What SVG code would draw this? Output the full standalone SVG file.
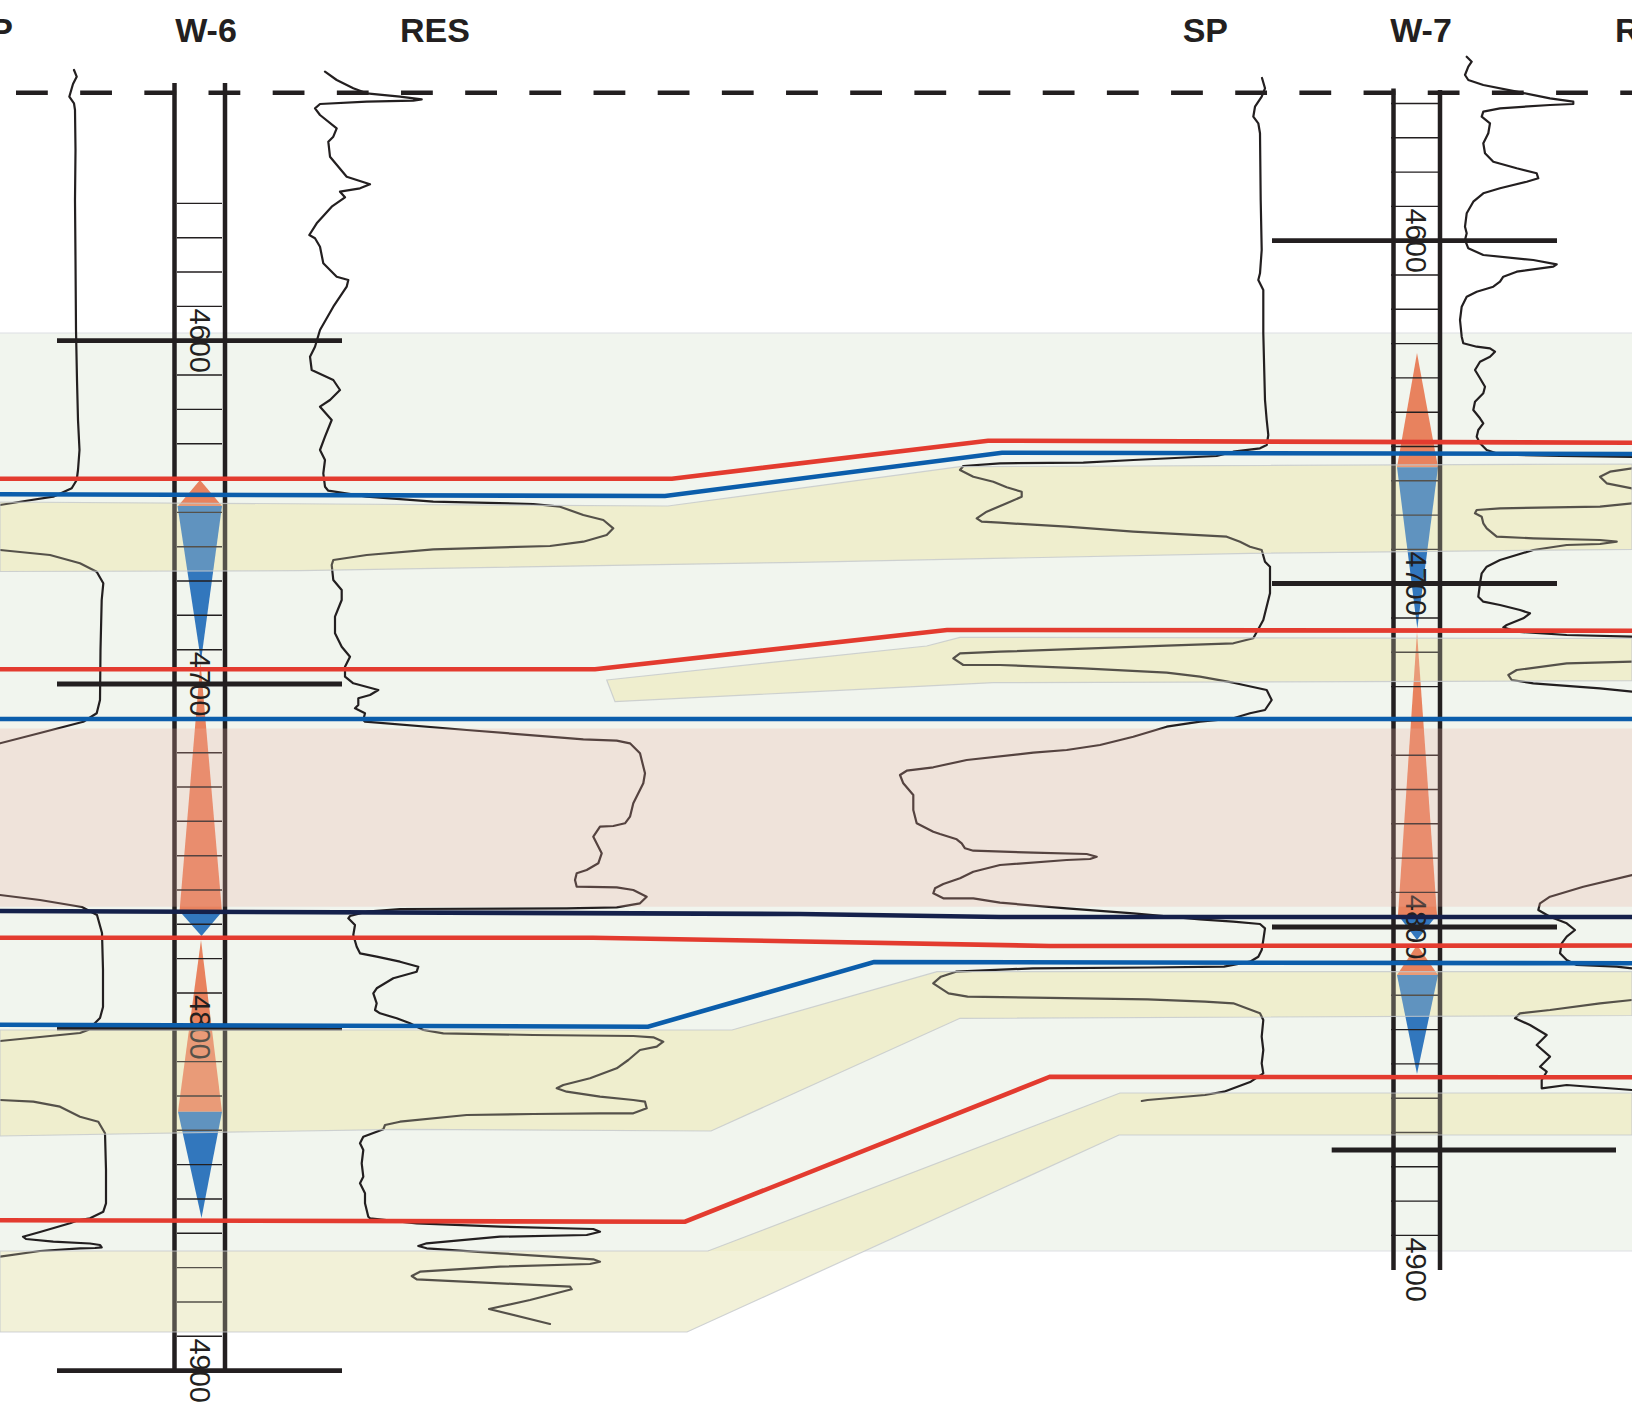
<svg xmlns="http://www.w3.org/2000/svg" width="1632" height="1406" viewBox="0 0 1632 1406">
<style>
.curve{fill:none;stroke:#231f20;stroke-width:2.2;stroke-linejoin:round;stroke-linecap:round}
.rail{stroke:#231f20;stroke-width:4.5}
.tick{stroke:#231f20;stroke-width:1.4;fill:none}
.marker{stroke:#231f20;stroke-width:4.8}
.hz{fill:none;stroke-width:4.6;stroke-linejoin:miter}
.red{stroke:#e33b2f}
.blue{stroke:#0b5dab}
.navy{stroke:#15214b}
.yu{fill:rgb(240,241,209)}
.yu2{fill:rgb(245,244,222)}
.ybd{fill:rgb(235,232,200);fill-opacity:0.25;stroke:#c4c8cc;stroke-width:1.2;stroke-opacity:0.8}
.pink{fill:rgb(237,177,158);fill-opacity:0.25}
.or{fill:#e8825e}
.bl{fill:#3277bd}
.depth{font-family:"Liberation Sans",Arial,sans-serif;font-size:29px;fill:#231f20}
.label{font-family:"Liberation Sans",Arial,sans-serif;font-weight:bold;font-size:34px;fill:#231f20}
</style>
<rect x="0" y="0" width="1632" height="1406" fill="#ffffff"/>
<g id="background">
<rect x="0" y="333" width="1632" height="918" fill="#f1f5ee"/>
<line x1="0" y1="333" x2="1632" y2="333" stroke="#dde0e3" stroke-width="1.2"/>
<line x1="708" y1="1251" x2="1632" y2="1251" stroke="#dde0e3" stroke-width="1.2"/>
</g>
<g id="layer-fills">
<polygon class="yu" points="0,502 668,506 960,466.7 1632,464 1632,549.3 1250,553.3 800,562.3 300,570.7 0,571.5"/>
<polygon class="yu" points="606.7,680 800,659.3 926.7,646 960,637.3 1632,638.5 1632,680.7 993.3,682.7 800,692.3 615,701.7"/>
<polygon class="yu" points="0,1030 732,1030 937,971.7 1632,971.7 1632,1015.5 960,1018.3 711,1131 400,1129.3 0,1136"/>
<polygon class="yu" points="708,1251 1120,1093 1632,1093 1632,1135 1119,1135 864,1251"/>
<polygon class="yu2" points="0,1251 864,1251 687,1332 0,1332"/>
</g>
<g id="well-W6">
<path class="or" d="M200 480 L222 506 L178 506 Z"/>
<path class="bl" d="M177.5 506 L222 506 L201 661 Z"/>
<path class="or" d="M200.5 662 L222 911.7 L179.5 911.7 Z"/>
<path class="bl" d="M180 911.7 L222 911.7 L201.5 936 Z"/>
<path class="or" d="M201 940 L222 1111.7 L178 1111.7 Z"/>
<path class="bl" d="M178 1111.7 L222 1111.7 L201.5 1218 Z"/>
<path class="tick" d="M177 203.4h45M177 237.7h45M177 272h45M177 306.4h45M177 340.7h45M177 375h45M177 409.4h45M177 443.7h45M177 478h45M177 512.4h45M177 546.7h45M177 581h45M177 615.3h45M177 649.7h45M177 684h45M177 718.3h45M177 752.7h45M177 787h45M177 821.3h45M177 855.7h45M177 890h45M177 924.3h45M177 958.6h45M177 993h45M177 1027.3h45M177 1061.6h45M177 1096h45M177 1130.3h45M177 1164.6h45M177 1199h45M177 1233.3h45M177 1267.6h45M177 1302h45M177 1336.3h45"/>
<line class="rail" x1="174.5" y1="83" x2="174.5" y2="1372"/>
<line class="rail" x1="225" y1="83" x2="225" y2="1372"/>
<text class="depth" transform="translate(200 340.7) rotate(90)" y="10" text-anchor="middle">4600</text>
<text class="depth" transform="translate(200 684) rotate(90)" y="10" text-anchor="middle">4700</text>
<text class="depth" transform="translate(200 1027.3) rotate(90)" y="10" text-anchor="middle">4800</text>
<text class="depth" transform="translate(200 1370.7) rotate(90)" y="10" text-anchor="middle">4900</text>
<line class="marker" x1="57" y1="340.7" x2="342" y2="340.7"/>
<line class="marker" x1="57" y1="684" x2="342" y2="684"/>
<line class="marker" x1="57" y1="1028" x2="342" y2="1028"/>
<line class="marker" x1="57" y1="1370.7" x2="342" y2="1370.7"/>
</g>
<g id="well-W7">
<path class="or" d="M1417 353 L1438 467.3 L1397 467.3 Z"/>
<path class="bl" d="M1397 467.3 L1438 467.3 L1417.3 628.5 Z"/>
<path class="or" d="M1417 632 L1437 915 L1398 915 Z"/>
<path class="bl" d="M1398 915 L1437 915 L1417 940 Z"/>
<path class="or" d="M1417 945 L1438 975 L1397 975 Z"/>
<path class="bl" d="M1397 975 L1438 975 L1417 1074 Z"/>
<path class="tick" d="M1391 103.5h47M1391 137.8h47M1391 172.1h47M1391 206.4h47M1391 240.7h47M1391 275h47M1391 309.3h47M1391 343.6h47M1391 377.9h47M1391 412.2h47M1391 446.5h47M1391 480.8h47M1391 515.1h47M1391 549.4h47M1391 583.7h47M1391 618h47M1391 652.3h47M1391 686.6h47M1391 720.9h47M1391 755.2h47M1391 789.5h47M1391 823.8h47M1391 858.1h47M1391 892.4h47M1391 926.7h47M1391 961h47M1391 995.3h47M1391 1029.6h47M1391 1063.9h47M1391 1098.2h47M1391 1132.5h47M1391 1166.8h47M1391 1201.1h47M1391 1235.4h47"/>
<line class="rail" x1="1393.5" y1="88.5" x2="1393.5" y2="1270"/>
<line class="rail" x1="1440" y1="90" x2="1440" y2="1270"/>
<text class="depth" transform="translate(1415.5 240.7) rotate(90)" y="10" text-anchor="middle">4600</text>
<text class="depth" transform="translate(1415.5 583.5) rotate(90)" y="10" text-anchor="middle">4700</text>
<text class="depth" transform="translate(1415.5 927) rotate(90)" y="10" text-anchor="middle">4800</text>
<text class="depth" transform="translate(1415.5 1269.7) rotate(90)" y="10" text-anchor="middle">4900</text>
<line class="marker" x1="1272" y1="240.7" x2="1557" y2="240.7"/>
<line class="marker" x1="1272" y1="583.5" x2="1557" y2="583.5"/>
<line class="marker" x1="1272" y1="927" x2="1557" y2="927"/>
<line class="marker" x1="1331.7" y1="1150" x2="1616" y2="1150"/>
</g>
<g id="logs">
<polyline id="sp-w6-a" class="curve" points="74,70 76.7,76.7 73,84 69.3,96.7 74,103.3 75,110 75.5,150 75,200 75.5,260 76,330 77,380 78,420 79.5,450 78,470 76.7,480 71.7,488.3 53.3,496.7 25,501 0,505"/>
<polyline id="sp-w6-b" class="curve" points="0,550 50,555 80,563.3 96.7,571.7 103.3,583.3 101.7,600 100.5,650 100,700 96.7,713.3 83.3,721.7 40,733 0,743.3"/>
<polyline id="sp-w6-c" class="curve" points="0,895 40,900 82,907 97,915 102,933 103,970 103,1007 100,1018 88,1030 80,1033 40,1037 0,1041"/>
<polyline id="sp-w6-d" class="curve" points="0,1100 33.3,1101.7 60,1106.7 80,1116.7 98.3,1121.7 105,1133.3 106,1170 106,1203.3 103.3,1211.7 90,1218.3 76.7,1220.7 70,1223.3 40,1232 23,1236.7 26,1239 53.3,1241.7 90,1243.5 100,1245 101.7,1247.3 95,1248 80,1248.3 40,1251 0,1256.7"/>
<polyline id="res-w6" class="curve" points="325,71.7 336.7,80 353.3,88.3 366.7,93.3 400,96.7 421.7,99.3 413.3,100.7 366.7,101.7 320,104 315,108.3 320,115 336.7,128.3 333.3,136.7 328.3,141.7 330,156.7 346.7,176.7 370,184.3 360,188.3 340,191.7 345,197.3 331.7,206.7 316.7,223.3 309.3,235 315,238.3 320,246.7 323.3,263.3 336.7,276.7 348.3,280 346.7,286.7 333.3,306.7 320,330 315,346.7 310,356.7 311.7,370 333.3,380 340,390 330,400 320,406.7 331.7,420 325,436.7 320,450 325,460 323.3,473.3 325,486.7 328.3,490.7 366.7,496.7 433.3,501.7 533.3,504 560,506.7 583.3,515 603.3,520 613.3,528.3 606.7,535 583.3,541.7 550,546 433.3,549.3 366.7,555 333.3,560 331.7,565 333.3,580 341.7,590 341.7,600 335,616.7 335,633.3 341.7,646.7 350,656.7 345,666.7 345,676.7 353.3,683.3 378.3,690 370,695 358.3,698.3 358.3,705 355,708.3 365,713.3 363.3,720 365,721.7 466.7,730 583.3,739.3 616.7,740.7 630,743.3 640,753.3 645,773.3 643.3,783.3 633.3,803.3 630,816.7 625,823.3 613.3,826 600,826.7 593.3,836.7 601.7,853.3 598.3,863.3 586.7,870 576.7,873.3 575,880 576.7,886.7 616.7,887.3 633.3,890 646.7,896.7 640,903.3 616.7,907.3 566.7,908.3 400,909 366.7,911.7 350,916 348.3,918.3 355,925 353.3,935 356.7,946.7 360,953.3 376.7,956.7 400,961.7 418.3,966.7 416.7,971.7 393.3,978.3 376.7,988.3 373.3,993.3 376.7,1003.3 375,1010 380,1013.3 396.7,1018.3 410,1023.3 423.3,1030 443.3,1033.3 533.3,1035 633.3,1036 653.3,1037.3 663.3,1041.7 656.7,1046.7 640,1050 628.3,1060 616.7,1068.3 590,1078.3 563.3,1085 556.7,1088.3 566.7,1091.7 600,1096.7 633.3,1100 645,1101.7 646.7,1108.3 633.3,1113.3 600,1113.3 533.3,1114 466.7,1115 400,1121.7 385,1125 383.3,1129.3 376.7,1131.7 363.3,1136.7 360,1143.3 363.3,1150 361.7,1163.3 363.3,1176.7 360,1183.3 365,1193.3 365,1203.3 368.3,1216.7 370,1218.3 416.7,1223.3 500,1226.7 593.3,1229 600,1231.7 586.7,1235 500,1236.7 426.7,1243.3 418.3,1246 426.7,1248.3 500,1253.3 593.3,1259.3 600,1261.7 590,1264 500,1266.7 420,1271.7 411.7,1276 416.7,1279.3 500,1283.3 570,1286.7 571.7,1289.3 530,1300 489,1309 550,1324"/>
<polyline id="sp-w7" class="curve" points="1262,78 1265,88.3 1261.7,96.7 1255,106.7 1253.3,116.7 1258.3,123.3 1260,133.3 1260.7,200 1261.7,250 1260,273.3 1258.3,280 1263.3,290 1263.3,333.3 1265,400 1266.7,420 1268.3,435 1266.7,445 1260,448.3 1233.3,451.7 1216.7,456 1133.3,460 1083.3,462.7 1000,463.3 963.3,466 960,470 973.3,476.7 993.3,481.7 1006.7,487.3 1021.7,491.7 1021.7,496.7 1006.7,503.3 986.7,511.7 976.7,518.3 981.7,521.7 1000,522.7 1066.7,526.7 1133.3,531.7 1226.7,536.7 1240,541.7 1250,546.7 1261.7,550 1265,561.7 1270,566.7 1270,593.3 1263.3,620 1253.3,638.3 1233.3,643.3 1166.7,645.7 1000,651.7 960,653.3 953.3,658.3 963.3,665 1000,665 1083.3,668.3 1166.7,672.7 1200,676.7 1233.3,682.7 1266.7,690 1271.7,700 1265,710 1250,713.3 1233.3,718.3 1200,721.7 1166.7,726.7 1133.3,736.7 1100,745 1066.7,750 1033.3,752.7 966.7,760 933.3,767.3 906.7,770.7 900,775 903.3,783.3 913.3,795 913.3,810 916.7,823.3 933.3,831.7 940,834 956.7,839.3 961.7,843.3 965,848.3 973.3,850.7 1033.3,852.7 1086.7,854 1096.7,856.7 1090,859 1066.7,860 1000,865 973.3,871.7 960,878.3 943.3,884 935,888.3 933.3,893.3 943.3,898.3 973.3,898.3 1000,902.7 1066.7,908.3 1133.3,913.3 1200,919.3 1233.3,921.7 1260,924 1265,928.3 1263.3,940 1261.7,950 1258.3,956.7 1250,961.7 1224,966.7 1150,967.5 1032.7,968.3 956,971.7 940.9,976.7 933.2,983.3 948.5,993.3 967.6,996.7 1032.7,997.7 1147.5,999.3 1205,1001.7 1233.3,1003.3 1260,1013.3 1263.3,1020 1261.7,1036.7 1263.3,1050 1261.7,1063.3 1263.3,1073.3 1250.8,1081.7 1224,1091.7 1205,1095 1147.5,1100 1141.8,1101"/>
<polyline id="res-w7-a" class="curve" points="1466.7,56.7 1471.7,61.7 1468.3,66.7 1465,75 1468.3,80 1483.3,85 1516.7,91.7 1550,98.3 1573.3,101.7 1573.3,104 1550,105 1500,108.3 1483.3,111.7 1481.7,116.7 1490,123.3 1488.3,133.3 1483.3,143.3 1485,153.3 1493.3,161.7 1516.7,168.3 1536.7,173.3 1538.3,178.3 1526.7,181.7 1500,188.3 1483.3,193.3 1473.3,201.7 1466.7,213.3 1465,226.7 1466.7,233.3 1465,240 1468.3,248.3 1483.3,255 1533.3,260 1556.7,264.3 1553.3,266.7 1516.7,271.7 1503.3,276.7 1500,281.7 1493.3,286.7 1476.7,291.7 1466.7,296.7 1461.7,306.7 1460,320 1461.7,336.7 1463.3,343.3 1476.7,346.7 1490,348.3 1495,351.7 1490,356.7 1480,361.7 1475,370 1480,378.3 1485,386.7 1483.3,393.3 1475,401.7 1473.3,410 1480,418.3 1483.3,423.3 1478.3,430 1476.7,436.7 1480,443.3 1486.7,450 1500,454.5 1560,456 1632,457"/>
<polyline id="res-w7-b" class="curve" points="1632,468.3 1610,471.7 1600,476.7 1606.7,483.3 1632,488.3"/>
<polyline id="res-w7-c" class="curve" points="1632,503.3 1600,506.7 1500,508.3 1476.7,510 1475,513.3 1481.7,516.7 1483.3,523.3 1486.7,528.3 1496.7,536.7 1533.3,538.3 1600,540 1616.7,541.7 1600,544 1566.7,545 1533.3,550 1500,560 1486.7,566.7 1481.7,573.3 1480,583.3 1478.3,596.7 1483.3,601.7 1500,605 1520,610 1530,613.3 1523.3,618.3 1506.7,625 1503.3,627.3 1516.7,631.7 1566.7,635 1632,636.7"/>
<polyline id="res-w7-d" class="curve" points="1632,661.7 1566.7,663.3 1516.7,670 1508.3,675 1511.7,680 1533.3,683.3 1600,688.3 1632,691.7"/>
<polyline id="res-w7-e" class="curve" points="1632,875 1583.3,886.7 1550,896.7 1540,903.3 1538.3,910 1550,916.7 1566.7,923.3 1575,930 1566.7,936.7 1561.7,943.3 1560,953.3 1566.7,960 1576.7,965 1616.7,966.7 1632,968.3"/>
<polyline id="res-w7-f" class="curve" points="1632,1000 1600,1003.3 1550,1010 1520,1013.3 1515,1018.3 1530,1025 1546.7,1035 1536.7,1045 1550,1056.7 1540,1066.7 1546.7,1071.7 1541.7,1080 1541.7,1088.3 1566.7,1085 1632,1090"/>
</g>
<g id="layers">
<polygon id="sand-1" class="ybd" points="0,502 668,506 960,466.7 1632,464 1632,549.3 1250,553.3 800,562.3 300,570.7 0,571.5"/>
<polygon id="sand-2" class="ybd" points="606.7,680 800,659.3 926.7,646 960,637.3 1632,638.5 1632,680.7 993.3,682.7 800,692.3 615,701.7"/>
<rect id="shale" class="pink" x="0" y="728.5" width="1632" height="178.2"/>
<polygon id="sand-3" class="ybd" points="0,1030 732,1030 937,971.7 1632,971.7 1632,1015.5 960,1018.3 711,1131 400,1129.3 0,1136"/>
<polygon id="sand-4" class="ybd" points="0,1251 708,1251 1120,1093 1632,1093 1632,1135 1119,1135 687,1332 0,1332"/>
</g>
<g id="connectors">
<polyline class="hz red" points="0,478.7 672,478.7 988,440.7 1632,442.7"/>
<polyline class="hz blue" points="0,494.3 665,496 1002,452.7 1632,454"/>
<polyline class="hz red" points="0,669.3 595,669.3 947,630 1632,630.7"/>
<polyline class="hz blue" points="0,719 1632,719"/>
<polyline class="hz navy" points="0,911 800,914 1000,917 1632,917"/>
<polyline class="hz red" points="0,937.7 593,937.7 1050,946 1632,945.5"/>
<polyline class="hz blue" points="0,1024.7 648,1026.7 874,962 1632,963.3"/>
<polyline class="hz red" points="0,1220.3 685,1221.7 1050,1076.7 1632,1077.3"/>
<line x1="16" y1="92.7" x2="1632" y2="92.7" stroke="#231f20" stroke-width="4.6" stroke-dasharray="31.8 32.37"/>
</g>
<g id="labels">
<text class="label" x="13" y="41.7" text-anchor="end">SP</text>
<text class="label" x="206" y="41.7" text-anchor="middle">W-6</text>
<text class="label" x="400" y="41.7">RES</text>
<text class="label" x="1228" y="41.7" text-anchor="end">SP</text>
<text class="label" x="1421" y="41.7" text-anchor="middle">W-7</text>
<text class="label" x="1615" y="41.7">RES</text>
</g>
</svg>
